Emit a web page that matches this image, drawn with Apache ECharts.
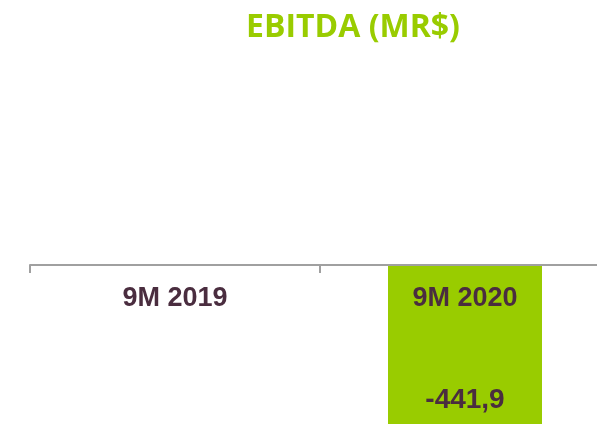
<!DOCTYPE html>
<html>
<head>
<meta charset="utf-8">
<script src="https://cdn.jsdelivr.net/npm/echarts@6/dist/echarts.min.js"></script>
<style>
  html, body { margin: 0; padding: 0; background: #fff; }
  #chart { width: 597px; height: 424px; }
</style>
</head>
<body>
<div id="chart"></div>
<script>
// data
const categories = ['9M 2019', '9M 2020']
const ebitda = [null, -441.9]

const green = '#99cc00'
const textColor = '#4a2d3f'

const chart = echarts.init(document.getElementById('chart'))
const option = {
  animation: false,
  title: {
    text: 'EBITDA (MR$)',
    left: 241,
    top: 7,
    textStyle: {
      color: green,
      fontFamily: 'Open Sans',
      fontWeight: 'bold',
      fontSize: 32
    }
  },
  grid: {
    left: 30,
    top: 265,
    width: 580,
    height: 200,
    outerBoundsMode: 'none'
  },
  xAxis: {
    type: 'category',
    data: categories,
    position: 'top',
    z: 5,
    axisLine: { lineStyle: { color: '#a0a0a0', width: 2 } },
    axisTick: { show: true, inside: true, length: 8, lineStyle: { color: '#a0a0a0', width: 2 } },
    axisLabel: {
      inside: true,
      margin: 20,
      color: textColor,
      fontFamily: 'Liberation Sans',
      fontWeight: 'bold',
      fontSize: 27
    }
  },
  yAxis: {
    type: 'value',
    min: -500,
    max: 0,
    show: false
  },
  series: [
    {
      type: 'bar',
      data: ebitda,
      barWidth: 154,
      itemStyle: { color: green },
      label: {
        show: true,
        position: 'insideBottom',
        distance: 27,
        color: textColor,
        fontFamily: 'Liberation Sans',
        fontWeight: 'bold',
        fontSize: 28,
        formatter: p => p.value == null ? '' : String(p.value).replace('.', ',')
      }
    }
  ]
}
chart.setOption(option)
</script>
</body>
</html>
